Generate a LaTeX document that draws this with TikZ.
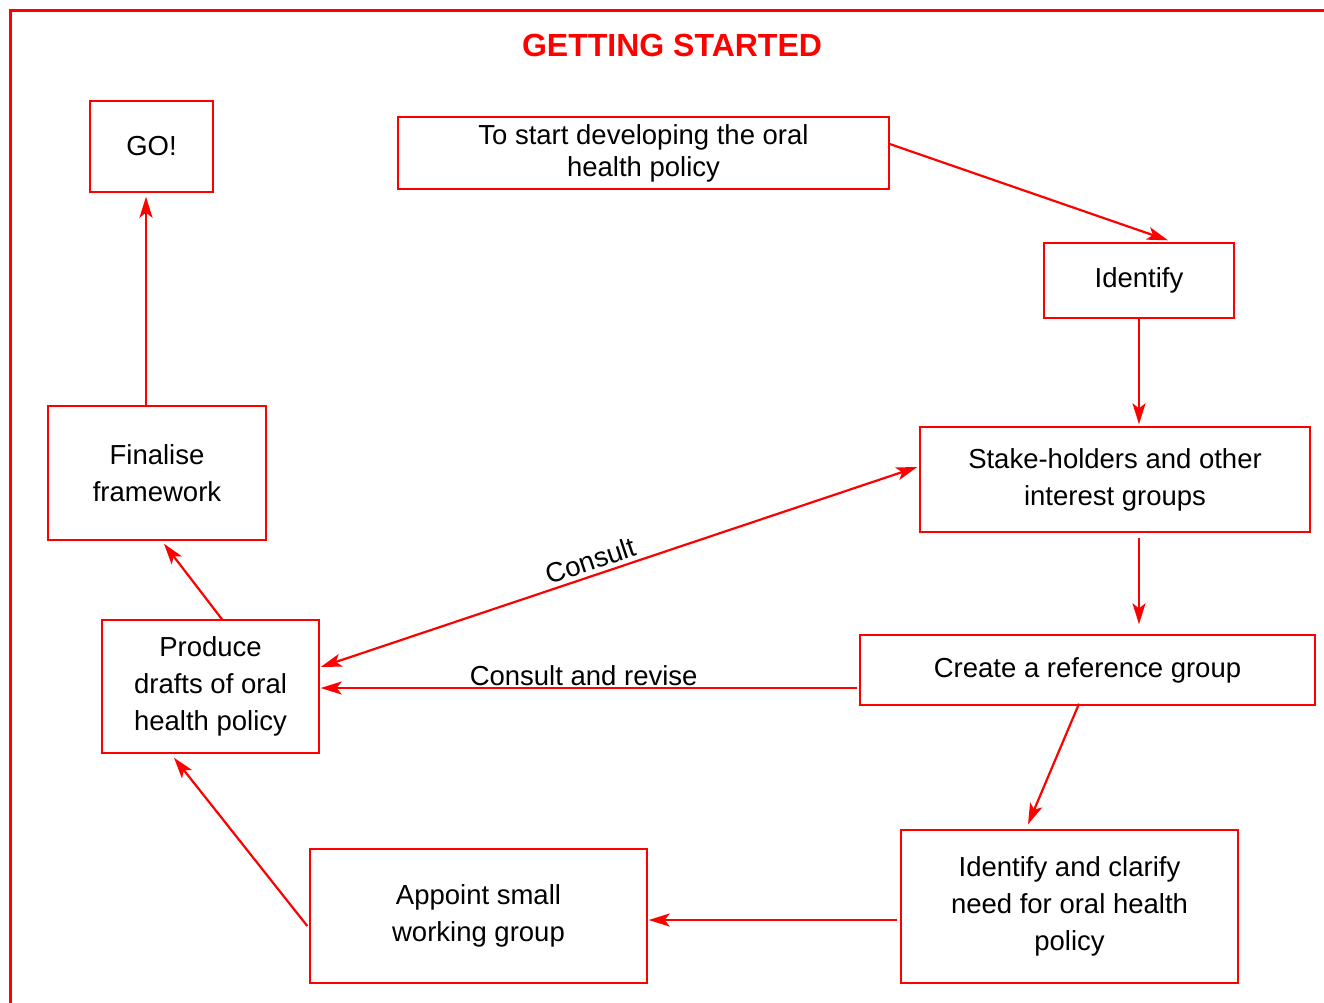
\documentclass[tikz,border=0pt]{standalone}
\usepackage{fontspec}
\setmainfont{Liberation Sans}
\usetikzlibrary{arrows.meta,calc}
\tikzset{
  box/.style={draw=red, line width=1.4pt, inner sep=0pt, align=center, font=\fontsize{27.5}{37}\selectfont},
  arr/.style={draw=red, line width=2.2pt, -{Stealth[length=21pt,width=13pt,inset=5pt]}},
  darr/.style={draw=red, line width=2.2pt, {Stealth[length=21pt,width=13pt,inset=5pt]}-{Stealth[length=21pt,width=13pt,inset=5pt]}},
  lbl/.style={font=\fontsize{27.5}{32}\selectfont, inner sep=0pt}
}
\begin{document}
\begin{tikzpicture}[x=1pt,y=-1pt]
\useasboundingbox (0,0) rectangle (1324,1002);
\draw[red, line width=2.6pt] (10.5,1010) -- (10.5,10.5) -- (1330,10.5);
\node[text=red, font=\bfseries\fontsize{32}{36}\selectfont, inner sep=0pt] (title) at (672,45) {GETTING STARTED};
\node[box, minimum width=123pt, minimum height=91pt] (go) at (151.5,146.5) {GO!};
\node[box, minimum width=491pt, minimum height=72pt, font=\fontsize{27.5}{32}\selectfont] (start) at (643.5,153) {To start developing the oral\\health policy};
\node[box, minimum width=190pt, minimum height=75pt] (identify) at (1139,280.5) {Identify};
\node[box, minimum width=390pt, minimum height=105pt] (stake) at (1115,479.5) {Stake-holders and other\\interest groups};
\node[box, minimum width=455pt, minimum height=70pt] (create) at (1087.5,670) {Create a reference group};
\node[box, minimum width=337pt, minimum height=153pt] (clarify) at (1069.5,906.5) {Identify and clarify\\need for oral health\\policy};
\node[box, minimum width=337pt, minimum height=134pt] (appoint) at (478.5,916) {Appoint small\\working group};
\node[box, minimum width=217pt, minimum height=133pt] (produce) at (210.5,686.5) {Produce\\drafts of oral\\health policy};
\node[box, minimum width=218pt, minimum height=134pt] (finalise) at (157,473) {Finalise\\framework};

\draw[arr] ([yshift=9pt]start.east) -- ([xshift=29pt,yshift=2pt]identify.north);
\draw[arr] (identify.south) -- ([xshift=24pt,yshift=2pt]stake.north);
\draw[arr] ([xshift=24pt,yshift=-5pt]stake.south) -- ([xshift=51.5pt,yshift=10pt]create.north);
\draw[arr] ([xshift=-8.5pt,yshift=2pt]create.south) -- ([xshift=-41.5pt,yshift=5pt]clarify.north);
\draw[arr] ([xshift=-3pt,yshift=-13.5pt]clarify.west) -- ([xshift=1pt,yshift=-4pt]appoint.east);
\draw[arr] ([xshift=-2pt,yshift=-10pt]appoint.west) -- ([xshift=-36.5pt,yshift=-4pt]produce.south);
\draw[arr] ([xshift=11.5pt]produce.north) -- ([xshift=7pt,yshift=-3pt]finalise.south);
\draw[arr] ([xshift=-11pt]finalise.north) -- ([xshift=-5.5pt,yshift=-4pt]go.south);
\draw[darr] ([xshift=1pt,yshift=19.5pt]produce.east) -- node[lbl, pos=0.46, sloped, above=4pt] {Consult} ([xshift=-2pt,yshift=12.5pt]stake.west);
\draw[arr] ([xshift=-2pt,yshift=-18pt]create.west) -- node[lbl, pos=0.51, anchor=base, yshift=3pt] {Consult and revise} ([xshift=1pt,yshift=-1.5pt]produce.east);
\end{tikzpicture}
\end{document}
